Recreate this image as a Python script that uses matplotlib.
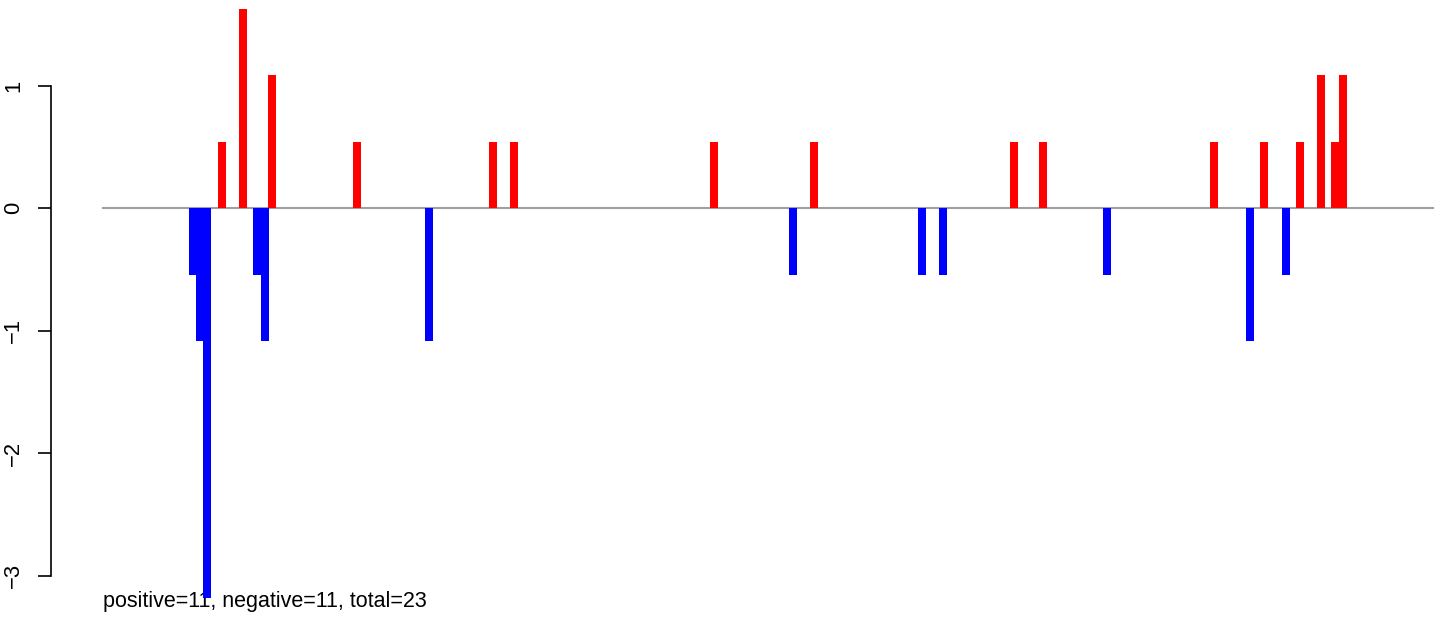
import matplotlib
matplotlib.use("Agg")
import matplotlib.pyplot as plt
import matplotlib.transforms as mtransforms

plt.rcParams['font.family'] = ['Liberation Sans', 'DejaVu Sans']

# positions along the sequence (arbitrary units, 0..1000 span) and scores
positions = [67.5, 73.0, 78.2, 89.5, 105.3, 115.8, 121.8, 127.1, 191.0, 245.2,
             293.3, 309.1, 459.5, 518.9, 534.7, 615.9, 631.7, 685.1, 706.9,
             755.1, 835.5, 862.6, 873.1, 889.7, 900.2, 916.0, 926.9, 932.5]
scores = [-0.543, -1.086, -3.26, 0.543, 1.629, -0.543, -1.086, 1.086, 0.543, -1.086,
          0.543, 0.543, 0.543, -0.543, 0.543, -0.543, -0.543, 0.543, 0.543,
          -0.543, 0.543, -1.086, 0.543, -0.543, 0.543, 1.086, 0.543, 1.086]
span_start, span_end = 0, 1000
yticks = [-3, -2, -1, 0, 1]
summary = "positive=11, negative=11, total=23"

W, H = 1444, 620
fig = plt.figure(figsize=(W / 100, H / 100), dpi=100)
ax = fig.add_axes([51 / W, (H - 598) / H, (W - 51) / W, 590 / H])

px_per_unit = (1432.7 - 103) / (span_end - span_start)
ax.set_xlim(span_start - (103 - 51) / px_per_unit, span_start + (W - 103) / px_per_unit)
ax.set_ylim(-(598 - 208.3) / 122.4, (208.3 - 8) / 122.4)

ax.plot([span_start, span_end], [0, 0], color='#A0A0A0', lw=1.5, zorder=1)

trans = mtransforms.blended_transform_factory(ax.transData, ax.transAxes)
ax.text(span_start, -9 / 590, summary, transform=trans, ha='left', va='baseline',
        fontsize=15.5, color='black', clip_on=False, zorder=2)

for i, (p, s) in enumerate(zip(positions, scores)):
    ax.bar(p, s, width=8 / px_per_unit, color='red' if s > 0 else 'blue',
           linewidth=0, zorder=3 + i * 0.01)

for side in ['top', 'right', 'bottom']:
    ax.spines[side].set_visible(False)
ax.spines['left'].set_bounds(-3, 1)
ax.spines['left'].set_linewidth(1.2)
ax.set_xticks([])
ax.set_yticks(yticks)
ax.set_yticklabels([str(t).replace('-', '\u2212') for t in yticks], rotation=90, va='center')
ax.tick_params(axis='y', length=9.4, width=1.2, pad=10, labelsize=15.8)

fig.savefig("out.png", dpi=100)
